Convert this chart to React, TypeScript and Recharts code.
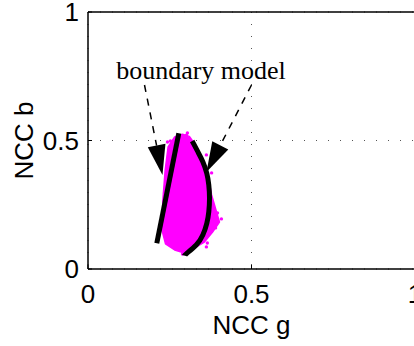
import React from 'react';
import {
  ScatterChart,
  Scatter,
  XAxis,
  YAxis,
  CartesianGrid,
  ReferenceLine,
  ReferenceDot
} from 'recharts';

const axisTicks = [0, 0.5, 1];

// outline of the magenta sample cloud (NCC g, NCC b)
const cloudOutline = [
  { g: 0.289, b: 0.524 },
  { g: 0.31, b: 0.516 },
  { g: 0.329, b: 0.482 },
  { g: 0.35, b: 0.424 },
  { g: 0.368, b: 0.358 },
  { g: 0.378, b: 0.288 },
  { g: 0.393, b: 0.222 },
  { g: 0.402, b: 0.183 },
  { g: 0.381, b: 0.144 },
  { g: 0.356, b: 0.105 },
  { g: 0.326, b: 0.082 },
  { g: 0.295, b: 0.062 },
  { g: 0.265, b: 0.074 },
  { g: 0.237, b: 0.098 },
  { g: 0.226, b: 0.152 },
  { g: 0.229, b: 0.268 },
  { g: 0.236, b: 0.385 },
  { g: 0.245, b: 0.475 },
  { g: 0.265, b: 0.514 }
];

// stray samples around the cloud edge
const cloudSpeckles = [
  { g: 0.243, b: 0.494 },
  { g: 0.252, b: 0.498 },
  { g: 0.301, b: 0.521 },
  { g: 0.304, b: 0.529 },
  { g: 0.362, b: 0.444 },
  { g: 0.378, b: 0.374 },
  { g: 0.396, b: 0.218 },
  { g: 0.408, b: 0.195 },
  { g: 0.39, b: 0.16 },
  { g: 0.365, b: 0.101 },
  { g: 0.362, b: 0.086 },
  { g: 0.289, b: 0.058 },
  { g: 0.234, b: 0.296 }
];

// boundary model: straight edge and curved edge
const lineBoundary = [
  { g: 0.2104, b: 0.1 },
  { g: 0.2777, b: 0.528 }
];

const curveBoundary = [
  { g: 0.3187, b: 0.498 },
  { g: 0.3358, b: 0.4564 },
  { g: 0.3511, b: 0.4175 },
  { g: 0.3633, b: 0.3724 },
  { g: 0.3694, b: 0.3268 },
  { g: 0.3716, b: 0.2751 },
  { g: 0.3694, b: 0.223 },
  { g: 0.3633, b: 0.1778 },
  { g: 0.3511, b: 0.1323 },
  { g: 0.3309, b: 0.0934 },
  { g: 0.3021, b: 0.0611 },
  { g: 0.2951, b: 0.0518 }
];

// annotation arrows: [start, tip]
const leftArrow = [
  { g: 0.1728, b: 0.716 },
  { g: 0.2278, b: 0.3658 }
];
const rightArrow = [
  { g: 0.5, b: 0.716 },
  { g: 0.3624, b: 0.3774 }
];

const annotation = { g: 0.3456, b: 0.775, text: 'boundary model' };

const sans = 'Liberation Sans, Arial, sans-serif';
const serif = 'Liberation Serif, Times New Roman, serif';

const noDot = () => <g />;

const cloudShape = (props: any) => {
  const pts = props.points || [];
  const d = pts.map((p: any, i: number) => `${i ? 'L' : 'M'}${p.x},${p.y}`).join(' ') + ' Z';
  return <path d={d} fill="#ff00ff" stroke="#ff00ff" strokeWidth={1.5} strokeLinejoin="round" />;
};

const arrowShape = (props: any) => {
  const [a, t] = props.points || [];
  if (!a || !t) return <g />;
  const dx = t.x - a.x;
  const dy = t.y - a.y;
  const len = Math.hypot(dx, dy);
  const ux = dx / len;
  const uy = dy / len;
  const headLen = 30;
  const halfW = 9;
  const bx = t.x - ux * headLen;
  const by = t.y - uy * headLen;
  const c1 = `${bx - uy * halfW},${by + ux * halfW}`;
  const c2 = `${bx + uy * halfW},${by - ux * halfW}`;
  return (
    <g>
      <line x1={a.x} y1={a.y} x2={bx} y2={by} stroke="#000" strokeWidth={1.5} strokeDasharray="7 7" />
      <polygon points={`${t.x},${t.y} ${c1} ${c2}`} fill="#000" />
    </g>
  );
};

const speckle = (props: any) => <circle cx={props.cx} cy={props.cy} r={1.7} fill="#ff00ff" />;

export default function App() {
  return (
    <div style={{ position: 'absolute', left: 0, top: 0, width: 414, height: 346, overflow: 'hidden', background: '#fff' }}>
      <ScatterChart width={440} height={346} margin={{ top: 12, right: 25, bottom: 0, left: 0 }}>
        <CartesianGrid strokeDasharray="1 11" stroke="#555" />
        <XAxis
          type="number"
          dataKey="g"
          domain={[0, 1]}
          ticks={axisTicks}
          interval={0}
          height={77}
          tickSize={-4}
          tickMargin={20}
          axisLine={{ stroke: '#000', strokeWidth: 1.5 }}
          tickLine={{ stroke: '#000' }}
          tick={{ fill: '#000', fontSize: 26, fontFamily: sans }}
          label={{ value: 'NCC g', position: 'insideBottom', offset: 12, fill: '#000', fontSize: 26, fontFamily: sans }}
        />
        <YAxis
          type="number"
          dataKey="b"
          domain={[0, 1]}
          ticks={axisTicks}
          interval={0}
          width={88}
          tickSize={-4}
          tickMargin={13}
          axisLine={{ stroke: '#000', strokeWidth: 1.5 }}
          tickLine={{ stroke: '#000' }}
          tick={{ fill: '#000', fontSize: 26, fontFamily: sans }}
          label={{
            value: 'NCC b',
            content: (p: any) => {
              const vb = p.viewBox || { y: 12, height: 257 };
              const cy = vb.y + vb.height / 2;
              return (
                <text
                  transform={`translate(33, ${cy}) rotate(-90)`}
                  textAnchor="middle"
                  fill="#000"
                  fontSize={26}
                  fontFamily={sans}
                >
                  NCC b
                </text>
              );
            }
          }}
        />
        <ReferenceLine y={1} stroke="#000" strokeWidth={1.5} />
        <ReferenceLine x={1} stroke="#000" strokeWidth={1.5} />
        <Scatter data={cloudOutline} line={cloudShape} shape={noDot} isAnimationActive={false} />
        <Scatter data={cloudSpeckles} shape={speckle} isAnimationActive={false} />
        <Scatter
          data={lineBoundary}
          line={{ stroke: '#000', strokeWidth: 5 }}
          lineJointType="linear"
          shape={noDot}
          isAnimationActive={false}
        />
        <Scatter
          data={curveBoundary}
          line={{ stroke: '#000', strokeWidth: 5 }}
          lineJointType="natural"
          shape={noDot}
          isAnimationActive={false}
        />
        <Scatter data={leftArrow} line={arrowShape} shape={noDot} isAnimationActive={false} />
        <Scatter data={rightArrow} line={arrowShape} shape={noDot} isAnimationActive={false} />
        <ReferenceDot
          x={annotation.g}
          y={annotation.b}
          r={0}
          fill="none"
          stroke="none"
          label={{ value: annotation.text, position: 'center', fill: '#000', fontSize: 26, fontFamily: serif }}
        />
      </ScatterChart>
    </div>
  );
}
